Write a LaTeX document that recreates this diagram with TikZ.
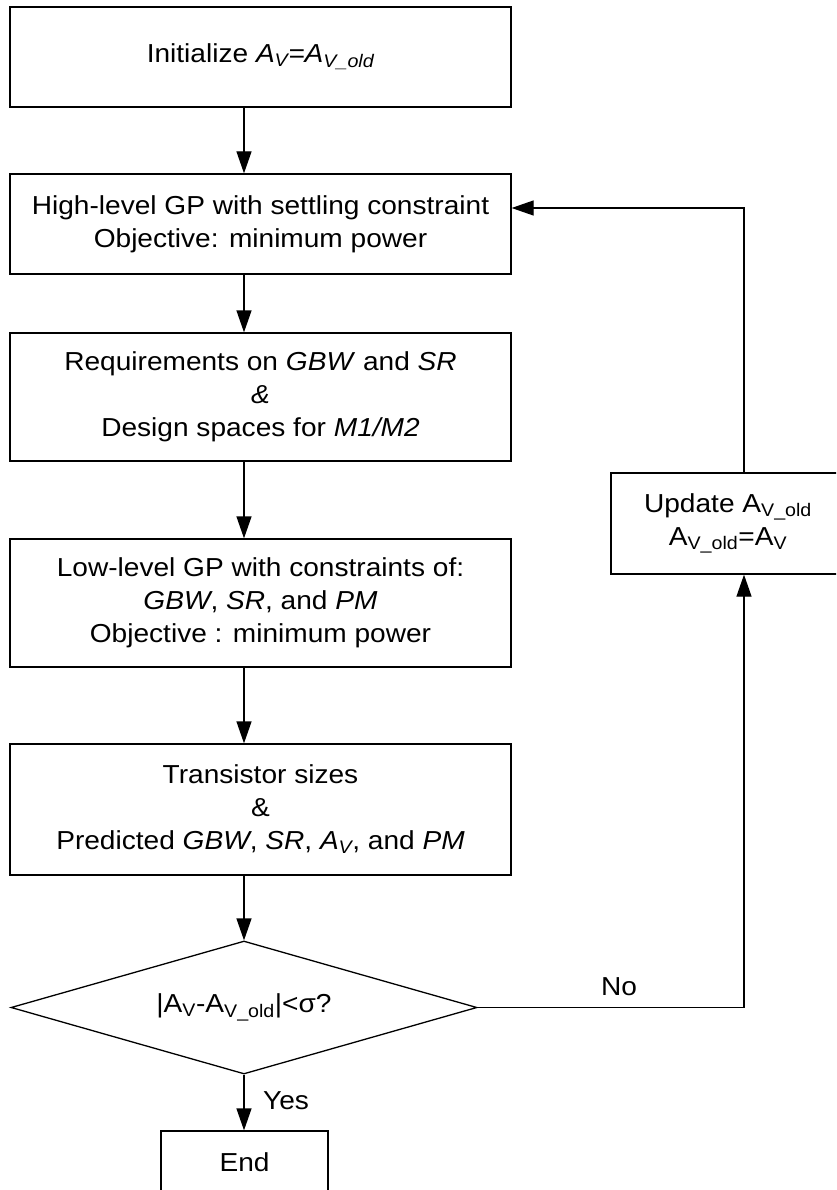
\documentclass[tikz,border=0pt]{standalone}
\usepackage{fontspec}
\setmainfont{Liberation Sans}[FakeStretch=1.08]
\usetikzlibrary{shapes.geometric,arrows.meta}
\newcommand{\fsz}{\fontsize{26}{33}\selectfont}
\newcommand{\sbs}[1]{\textsubscript{#1}}
\tikzset{
  box/.style={draw, line width=1.3pt, align=center, inner sep=0pt, font=\fsz},
  arr/.style={-{Triangle[length=22pt,width=15pt]}, line width=1.3pt},
  lbl/.style={font=\fsz, inner sep=0pt}
}
\begin{document}
\begin{tikzpicture}[x=1pt,y=-1pt]
\clip (0,0) rectangle (836,1190);
\useasboundingbox (0,0) rectangle (836,1190);
\fill[white] (0,0) rectangle (836,1190);
\node[box, minimum width=501pt, minimum height=100pt] (b1) at (260.5,57)
  {Initialize \textit{A\sbs{V}=A\sbs{V\_old}}};
\node[box, minimum width=501pt, minimum height=100pt] (b2) at (260.5,224)
  {High-level GP with settling constraint\\Objective: minimum power};
\node[box, minimum width=501pt, minimum height=128pt] (b3) at (260.5,397)
  {Requirements on \textit{GBW} and \textit{SR}\\\textit{\&}\\Design spaces for \textit{M1/M2}};
\node[box, minimum width=501pt, minimum height=128pt] (b4) at (260.5,603)
  {Low-level GP with constraints of:\\\textit{GBW}, \textit{SR}, and \textit{PM}\\Objective : minimum power};
\node[box, minimum width=501pt, minimum height=131pt] (b5) at (260.5,809.5)
  {Transistor sizes\\\&\\Predicted \textit{GBW}, \textit{SR}, \textit{A\sbs{V}}, and \textit{PM}};
\node[box, shape=diamond, aspect=3.5, minimum width=466pt, minimum height=133pt] (dia) at (244,1007.5)
  {|A\sbs{V}-A\sbs{V\_old}|<σ?};
\node[box, minimum width=167pt, minimum height=62pt] (end) at (244.5,1162) {End};
\node[box, minimum width=234pt, minimum height=101pt] (upd) at (728,523.5)
  {Update A\sbs{V\_old}\\A\sbs{V\_old}=A\sbs{V}};
\coordinate (fb) at (744,0);
\coordinate (in) at ([yshift=16pt]b2.east);
\draw[arr] (b1.south -| dia.north) -- (b2.north -| dia.north);
\draw[arr] (b2.south -| dia.north) -- (b3.north -| dia.north);
\draw[arr] (b3.south -| dia.north) -- (b4.north -| dia.north);
\draw[arr] (b4.south -| dia.north) -- (b5.north -| dia.north);
\draw[arr] (b5.south -| dia.north) -- (dia.north);
\draw[arr] (dia.south) -- (end.north -| dia.south);
\draw[arr] (dia.east) -- (dia.east -| fb) -- (upd.south -| fb);
\draw[arr] (upd.north -| fb) -- (fb |- in) -- (in);
\node[lbl] (no) at (619,987) {No};
\node[lbl] (yes) at (286,1101) {Yes};
\end{tikzpicture}
\end{document}
